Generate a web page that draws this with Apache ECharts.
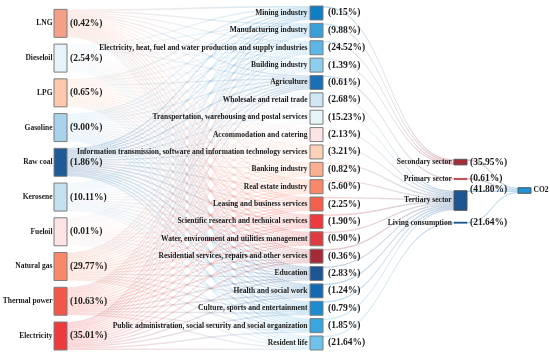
<!DOCTYPE html>
<html><head><meta charset="utf-8">
<script src="https://cdn.jsdelivr.net/npm/echarts@6/dist/echarts.min.js"></script>
<style>html,body{margin:0;padding:0;background:#fff}#c{width:550px;height:355px}</style>
</head><body><div id="c"></div>
<script>
// ---------- data ----------
const energyNames = ['LNG','Dieseloil','LPG','Gasoline','Raw coal','Kerosene','Fueloil','Natural gas','Thermal power','Electricity'];
const energyShares = [0.42, 2.54, 0.65, 9.00, 1.86, 10.11, 0.01, 29.77, 10.63, 35.01];

const industryNames = [
  'Mining industry',
  'Manufacturing industry',
  'Electricity, heat, fuel and water production and supply industries',
  'Building industry',
  'Agriculture',
  'Wholesale and retail trade',
  'Transportation, warehousing and postal services',
  'Accommodation and catering',
  'Information transmission, software and information technology services',
  'Banking industry',
  'Real estate industry',
  'Leasing and business services',
  'Scientific research and technical services',
  'Water, environment and utilities management',
  'Residential services, repairs and other services',
  'Education',
  'Health and social work',
  'Culture, sports and entertainment',
  'Public administration, social security and social organization',
  'Resident life'
];
const industryShares = [0.15, 9.88, 24.52, 1.39, 0.61, 2.68, 15.23, 2.13, 3.21, 0.82, 5.60, 2.25, 1.90, 0.90, 0.36, 2.83, 1.24, 0.79, 1.85, 21.64];
const industrySector = [
  'Secondary sector','Secondary sector','Secondary sector','Secondary sector',
  'Primary sector',
  'Tertiary sector','Tertiary sector','Tertiary sector','Tertiary sector','Tertiary sector',
  'Tertiary sector','Tertiary sector','Tertiary sector','Tertiary sector','Tertiary sector',
  'Tertiary sector','Tertiary sector','Tertiary sector','Tertiary sector',
  'Living consumption'
];
const sectorNames = ['Secondary sector','Primary sector','Tertiary sector','Living consumption'];
const sectorShares = [35.95, 0.61, 41.80, 21.64];
const totalName = 'CO2';
const flowUnit = 1; // every drawn link is one equal thin strand

// ---------- styles ----------
const energyColors = ['#F4A088','#E6F3F8','#FCC9B0','#A9D3EA','#1F5A96','#C5E0EF','#FDE3E3','#F7896A','#F2584A','#EC3B3F'];
const industryColors = ['#0E7DC3','#3A9FD9','#5DB6E6','#8FCDEC','#1A6FB5','#CFE7F3','#E6F4F8','#FDE4E4','#FDD0B8','#FBAE90',
  '#F7896A','#F3604E','#EE3A3E','#DE3D40','#A52A36','#1D5592','#1569B2','#1E8BD0','#3BA5DE','#6EC1EA'];
const sectorColors = ['#A72B36','#A72B36','#1D5592','#1D5592'];
const totalColor = '#1F93D5';

// ---------- layout ----------
const L = {left: 54, top: 6, height: 344, nodeWidth: 13, nodeGap: 3.37, colStep: 16};
const DEPTH = {energy: 0, industry: 16, sector: 25, total: 29};
const KY = (L.height - (industryNames.length - 1) * L.nodeGap) / (industryNames.length * energyNames.length * flowUnit);
const sectorTops = [159.3, 178.3, 190.7, 222];
const totalTop = 187.7;

const FONT = '"Liberation Serif","Times New Roman",serif';
const fmt = v => '(' + v.toFixed(2) + '%)';

const nodes = [];
let spacerId = 0;
function spacer(depth, px) {
  nodes.push({name: '_s' + (spacerId++), depth, value: Math.max(px, 0.0001) / KY, kind: 'spacer',
    itemStyle: {color: 'rgba(0,0,0,0)', borderWidth: 0}});
}
// left column: a tiny spacer on top and between energy nodes spreads them over the full height
const energyH = industryNames.length * flowUnit * KY;
const leftSp = Math.max((L.height - energyNames.length * energyH - (2 * energyNames.length - 1) * L.nodeGap) / (energyNames.length - 1) - 0.02, 0);
spacer(DEPTH.energy, 0);
energyNames.forEach((n, i) => {
  if (i > 0) spacer(DEPTH.energy, leftSp);
  nodes.push({name: n, depth: DEPTH.energy, kind: 'energy', share: energyShares[i],
    itemStyle: {color: energyColors[i], borderColor: '#7d7d7d', borderWidth: 1}});
});
industryNames.forEach((n, i) => {
  nodes.push({name: n, depth: DEPTH.industry, kind: 'industry', share: industryShares[i],
    itemStyle: {color: industryColors[i], borderColor: '#7d7d7d', borderWidth: 1}});
});
let cursor = 0;
sectorNames.forEach((n, i) => {
  const inCount = industrySector.filter(s => s === n).length;
  const h = inCount * flowUnit * KY;
  const top = sectorTops[i] - L.top;
  spacer(DEPTH.sector, top - cursor - L.nodeGap);
  const big = inCount > 1;
  nodes.push({name: n, depth: DEPTH.sector, kind: 'sector', share: sectorShares[i],
    itemStyle: {color: sectorColors[i], borderColor: big ? '#555' : sectorColors[i], borderWidth: big ? 1 : 0.4}});
  cursor = top + h + L.nodeGap;
});
spacer(DEPTH.total, totalTop - L.top - L.nodeGap);
nodes.push({name: totalName, depth: DEPTH.total, kind: 'total',
  itemStyle: {color: totalColor, borderColor: '#555', borderWidth: 1}});

const links = [];
energyNames.forEach(e => industryNames.forEach(ind => links.push({source: e, target: ind, value: flowUnit, op: 0.2})));
industryNames.forEach((ind, i) => links.push({source: ind, target: industrySector[i], value: flowUnit, op: 0.25}));
sectorNames.forEach(s => links.push({source: s, target: totalName, value: flowUnit, op: 0.3}));

const textBase = {fontFamily: FONT, fontWeight: 'bold', color: '#1a1a1a'};
const nameDist = {energy: 1, industry: 2, sector: 2, total: 2};
const pctDist = {energy: 3, industry: 5, sector: 3};

// series A: visible marks + names on the left side of nodes (CO2 on the right)
const nodesA = nodes.map(n => Object.assign({}, n, {
  label: n.kind === 'spacer' ? {show: false} :
    Object.assign({show: true, position: n.kind === 'total' ? 'right' : 'left', distance: nameDist[n.kind],
      fontSize: 7.5, formatter: n.name}, textBase)
}));
const linksA = links.map(l => ({source: l.source, target: l.target, value: l.value,
  lineStyle: {color: 'gradient', opacity: l.op}}));

// series B: identical layout, invisible marks, percentages on the right side
const nodesB = nodes.map(n => Object.assign({}, n, {
  itemStyle: {color: 'rgba(0,0,0,0)', borderWidth: 0},
  label: (n.kind === 'spacer' || n.kind === 'total') ? {show: false} :
    Object.assign({show: true, position: 'right', distance: pctDist[n.kind], fontSize: 9.5,
      formatter: fmt(n.share), offset: n.name === 'Tertiary sector' ? [0, -11] : [0, 0]}, textBase)
}));
const linksB = links.map(l => ({source: l.source, target: l.target, value: l.value,
  lineStyle: {color: 'rgba(0,0,0,0)', opacity: 0}}));

const common = {
  type: 'sankey',
  left: L.left, top: L.top,
  width: DEPTH.total * L.colStep + L.nodeWidth,
  height: L.height,
  nodeWidth: L.nodeWidth,
  nodeGap: L.nodeGap,
  nodeAlign: 'left',
  layoutIterations: 0,
  draggable: false,
  emphasis: {disabled: true},
  lineStyle: {curveness: 0.5}
};

const chart = echarts.init(document.getElementById('c'), null, {renderer: 'canvas'});
chart.setOption({
  animation: false,
  series: [
    Object.assign({}, common, {id: 'marks', data: nodesA, links: linksA}),
    Object.assign({}, common, {id: 'pct', silent: true, data: nodesB, links: linksB})
  ]
});
</script>
</body></html>
